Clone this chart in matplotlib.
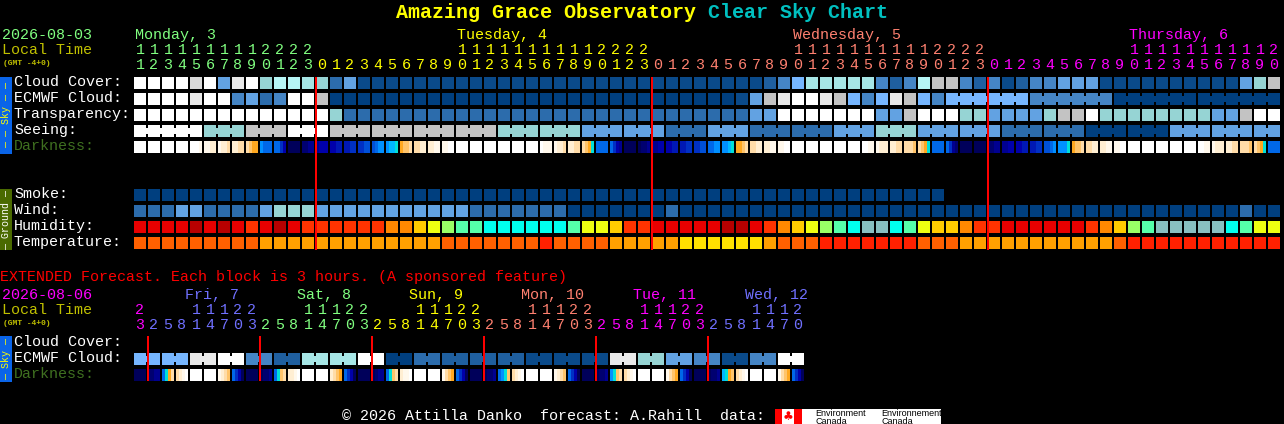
import matplotlib
matplotlib.use("Agg")
import matplotlib.pyplot as plt

DPI = 100
PX = 72.0 / DPI  # points per pixel
MONO = "Liberation Mono"

CELL_X0 = 134
CELL_PITCH = 14
CELL_W = 12

# sky condition colours
PALETTE = {
    "n": "#003f7f", "m": "#0a4a8a", "b": "#1f5f9f", "c": "#2c6cac", "d": "#4585c5",
    "e": "#62a2e2", "f": "#76b6ff", "g": "#96d4d4", "h": "#a6e6e6", "i": "#b6f6f6",
    "j": "#c3c3c3", "k": "#d9d9d9", "l": "#e9e9e9", "w": "#ffffff",
}
# humidity and temperature colours
HEAT = {
    "D": "#b80000", "R": "#e80000", "S": "#ff3300", "O": "#ff8800", "Y": "#ffcc00",
    "L": "#eeff11", "G": "#99ff66", "M": "#55ffaa", "C": "#00ffee", "T": "#88c0c0",
    "1": "#ff2000", "2": "#ff6000", "3": "#ffa000", "4": "#ffe000",
}
# darkness stripes, night to day
DARK = {
    "0": "#00005a", "1": "#000070", "2": "#000090", "3": "#0000aa", "4": "#0018b4",
    "5": "#0030c4", "6": "#0050d8", "7": "#0068e8", "8": "#0090ff", "9": "#00b8ff",
    "c": "#00e0d8", "o": "#ffa820", "p": "#ffc46a", "q": "#ffdca8", "r": "#ffeed2",
    "s": "#fff8ec", "w": "#ffffff",
}

main_hours = [
    11, 12, 13, 14, 15, 16, 17, 18, 19, 20, 21, 22, 23,
    0, 1, 2, 3, 4, 5, 6, 7, 8, 9, 10, 11, 12, 13, 14, 15, 16, 17, 18, 19, 20, 21, 22, 23,
    0, 1, 2, 3, 4, 5, 6, 7, 8, 9, 10, 11, 12, 13, 14, 15, 16, 17, 18, 19, 20, 21, 22, 23,
    0, 1, 2, 3, 4, 5, 6, 7, 8, 9, 10, 11, 12, 13, 14, 15, 16, 17, 18, 19, 20,
]
main_day_first = [0, 13, 37, 61]
main_day_colors = ["#80ff80", "#ffff00", "#ff8070", "#ff00ff"]
main_day_names = ["Monday, 3", "Tuesday, 4", "Wednesday, 5", "Thursday, 6"]
main_day_label_x = [135, 457, 793, 1129]
main_midnights = [315, 651, 987]

cloud_cover = ("wwwwkwelwg" "iihgcemmmm" "mmmmmmmmmm" "mmmmmmmmmm"
               "mmmmmbdfhh" "hhhdbdijjd" "bdmbddeeem" "mmmmmmmmmegj")
ecmwf_cloud = ("wwwwlwwdec" "dwwjnnnnnn" "nnnnnnnnnn" "nnnnnnnnnn"
               "nnnmejlwwl" "jfdfljfdff" "ffffdddddd" "nnnnnnnnnnnn")
transparency = ("wwwwwwwwww" "wwwwgccccc" "cccccccccc" "cccccccccc"
                "cccceewwww" "wwweejwwwg" "geeeegjjwg" "gggggggeejww")
seeing = ("wwwwwgggjj" "jwwwjjjjjj" "jjjjjjgggg" "ggeeeeeecc"
          "ceeecccccc" "eeegggeeee" "eeccccccnn" "nnnneeeeeeee")
smoke = ("nnnnnnnnnn" "nnnnnnnnnn" "nnnnnnnnnn" "nnnnnnnnnn"
         "nnnnnnnnnn" "nnnnnnnn")
wind = ("ccceecccce" "gggeeeeeee" "eeeecccccc" "cnnnnnnncn"
        "nnnnnnnnnn" "nnnnnnnnnn" "nnnnnnnnnn" "nnnnnnnnncnn")
humidity = ("RRRRDRDRSR" "DRSSSSSSOO" "YLGMMCCCCC" "CMLLYSSRRR"
            "RRDDRSOYLG" "MCTTCMLYYO" "SSRRRRRRSO" "YGMTTTTTCMLL")
temperature = ("2222222223" "3333333333" "3322222221" "2222333334"
               "4444432221" "1111112223" "3333333333" "211111111111")
darkness = [
    "wwww", "wwww", "wwww", "wwww", "wwws", "ssrr", "srrq", "rrqq", "qpoo", "8777",
    "7753", "0000", "1122", "2333", "3344", "4455", "5566", "6788", "899c", "oppq",
    "qqrr", "rrss", "ssww", "wwww", "wwww", "wwww", "wwww", "wwww", "wwww", "wsss",
    "srrq", "rrqq", "qpoc", "7777", "7532", "0000", "0112", "2233", "3344", "4455",
    "5566", "7788", "889c", "oopq", "qqrr", "rrss", "ssww", "wwww", "wwww", "wwww",
    "wwww", "wwww", "wwss", "srrr", "rrqq", "qqqp", "qpoc", "7777", "7521", "0000",
    "0000", "1122", "2233", "3344", "4455", "6678", "888c", "oppq", "qqrr", "rrss",
    "ssww", "wwww", "wwww", "wwww", "wwww", "wwww", "wwss", "srrr", "rrqq", "qqqp",
    "qpoc", "7777",
]
# runs of hours that share one forecast step
ecmwf_runs = [(58, 75), (76, 81)]
seeing_firsts = [0, 2, 5, 8, 11, 14, 17, 20, 23, 26, 29, 32, 35, 38, 41, 44, 47, 50, 53,
                 56, 59, 62, 65, 68, 71, 74, 77, 80]

ext_hours = [
    23, 2, 5, 8, 11, 14, 17, 20, 23, 2, 5, 8, 11, 14, 17, 20, 23, 2, 5, 8, 11, 14, 17, 20,
    23, 2, 5, 8, 11, 14, 17, 20, 23, 2, 5, 8, 11, 14, 17, 20, 23, 2, 5, 8, 11, 14, 17, 20,
]
ext_day_first = [0, 1, 9, 17, 25, 33, 41]
ext_day_colors = ["#ff00ff", "#7070ff", "#80ff80", "#ffff00", "#ff8070", "#ff00ff", "#7070ff"]
ext_day_names = ["Fri, 7", "Sat, 8", "Sun, 9", "Mon, 10", "Tue, 11", "Wed, 12"]
ext_day_label_x = [185, 297, 409, 521, 633, 745]
ext_midnights = [147, 259, 371, 483, 595, 707]
ext_ecmwf = "fflwdbhhwncbbbmmmlgedmdw"
ext_darkness = [
    "0000", "1122", "7coq", "qrsw", "wwww", "wwww", "srqp", "7530",
    "0000", "0112", "7cpq", "rrsw", "wwww", "wwww", "rqpo", "7530",
    "0000", "0122", "7cpq", "rssw", "wwww", "wwww", "sqpo", "7530",
    "0000", "0112", "78cp", "qrsw", "wwww", "wwww", "srqp", "7530",
    "0000", "0112", "8cpq", "qrsw", "wwww", "wwww", "sqpo", "7530",
    "0000", "0112", "9cop", "qrsw", "wwww", "wwww", "sqpo", "7530",
]

sky_labels = ["Cloud Cover:", "ECMWF Cloud:", "Transparency:", "Seeing:", "Darkness:"]
ground_labels = ["Smoke:", "Wind:", "Humidity:", "Temperature:"]


def draw_row(ax, codes, colors, top):
    xs = [CELL_X0 + CELL_PITCH * i for i in range(len(codes))]
    ax.bar(xs, [12] * len(xs), width=CELL_W, bottom=top, align="edge",
           color=[colors[c] for c in codes], linewidth=0, antialiased=False, zorder=2)


def draw_joins(ax, codes, colors, top, runs):
    # little bridges between blocks of the same colour in one run
    for first, last in runs:
        for col in range(first, last):
            if codes[col] != codes[col + 1]:
                continue
            x = CELL_X0 + CELL_PITCH * col + CELL_W
            ax.bar(x, 6, width=2, bottom=top + 3, align="edge",
                   color=colors[codes[col]], linewidth=0, antialiased=False, zorder=2)


def draw_darkness(ax, stripes, top):
    for col, block in enumerate(stripes):
        x0 = CELL_X0 + CELL_PITCH * col
        ax.bar([x0 + 3 * i for i in range(4)], [12] * 4, width=3, bottom=top, align="edge",
               color=[DARK[c] for c in block], linewidth=0, antialiased=False, zorder=2)


def draw_midnights(ax, xs, top, height):
    ax.bar(xs, [height] * len(xs), width=2, bottom=top, align="edge", color="#ff0000",
           linewidth=0, antialiased=False, snap=False, zorder=3)


def label(ax, x, y, text, color, size=15, **kw):
    return ax.text(x, y, text, color=color, fontsize=size * PX, family=MONO,
                   va="baseline", ha="left", **kw)


def side_bar(ax, top, height, color, text, text_color):
    ax.bar(0, height, width=12, bottom=top, align="edge", color=color, linewidth=0,
           antialiased=False)
    ax.text(6, top + height / 2.0, text, color=text_color, fontsize=10 * PX, family=MONO,
            rotation=90, ha="center", va="center")


def draw_hours(ax, hours, firsts, colors, y_tens, y_units):
    for col, hour in enumerate(hours):
        color = colors[[i for i, f in enumerate(firsts) if f <= col][-1]]
        x = CELL_X0 + CELL_PITCH * col + 6
        if hour >= 10:
            ax.text(x, y_tens, str(hour // 10), color=color, fontsize=15 * PX, family=MONO,
                    ha="center", va="baseline")
        ax.text(x, y_units, str(hour % 10), color=color, fontsize=15 * PX, family=MONO,
                ha="center", va="baseline")


fig = plt.figure(figsize=(1284 / DPI, 424 / DPI), dpi=DPI, facecolor="black")
ax = fig.add_axes([0, 0, 1, 1])
ax.set_xlim(0, 1284)
ax.set_ylim(424, 0)
ax.axis("off")

# title
label(ax, 396, 18, "Amazing Grace Observatory", "#ffff00", size=20, fontweight="bold")
label(ax, 708, 18, "Clear Sky Chart", "#00c0c0", size=20, fontweight="bold")

# main chart header
label(ax, 2, 39, "2026-08-03", "#80ff80")
label(ax, 2, 54, "Local Time", "#c0c000")
label(ax, 3, 65, "(GMT -4+0)", "#c0c000", size=8, fontweight="bold")
for name, x, color in zip(main_day_names, main_day_label_x, main_day_colors):
    label(ax, x, 39, name, color)
draw_hours(ax, main_hours, main_day_first, main_day_colors, 54, 69)

# side bars
side_bar(ax, 77, 77, "#0a64e8", "\u2014 \u2014 Sky \u2014 \u2014", "#ffff00")
side_bar(ax, 189, 61, "#4a6a00", "\u2014 Ground \u2014", "#ffffff")
side_bar(ax, 336, 46, "#0a64e8", "\u2014 Sky \u2014", "#ffff00")

# sky rows
for i, text in enumerate(sky_labels):
    label(ax, 14, 86 + 16 * i, text, "#3f7020" if text == "Darkness:" else "#ffffff")
draw_row(ax, cloud_cover, PALETTE, 77)
draw_row(ax, ecmwf_cloud, PALETTE, 93)
draw_joins(ax, ecmwf_cloud, PALETTE, 93, ecmwf_runs)
draw_row(ax, transparency, PALETTE, 109)
draw_row(ax, seeing, PALETTE, 125)
seeing_runs = [(f, min(f + 2, len(seeing) - 1)) for f in seeing_firsts]
draw_joins(ax, seeing, PALETTE, 125, seeing_runs)
draw_darkness(ax, darkness, 141)

# ground rows
for i, text in enumerate(ground_labels):
    label(ax, 14, 198 + 16 * i, text, "#ffffff")
draw_row(ax, smoke, PALETTE, 189)
draw_row(ax, wind, PALETTE, 205)
draw_row(ax, humidity, HEAT, 221)
draw_row(ax, temperature, HEAT, 237)

draw_midnights(ax, main_midnights, 77, 173)

# extended forecast
label(ax, 0, 281, "EXTENDED Forecast. Each block is 3 hours. (A sponsored feature)", "#ff0000")
label(ax, 2, 299, "2026-08-06", "#ff00ff")
label(ax, 2, 314, "Local Time", "#c0c000")
label(ax, 3, 325, "(GMT -4+0)", "#c0c000", size=8, fontweight="bold")
for name, x, color in zip(ext_day_names, ext_day_label_x, ext_day_colors[1:]):
    label(ax, x, 299, name, color)
draw_hours(ax, ext_hours, ext_day_first, ext_day_colors, 314, 329)

label(ax, 14, 346, sky_labels[0], "#ffffff")
label(ax, 14, 362, sky_labels[1], "#ffffff")
label(ax, 14, 378, "Darkness:", "#3f7020")
ext_cells = "".join(c + c for c in ext_ecmwf)
draw_row(ax, ext_cells, PALETTE, 353)
draw_joins(ax, ext_cells, PALETTE, 353, [(2 * k, 2 * k + 1) for k in range(len(ext_ecmwf))])
draw_darkness(ax, ext_darkness, 369)
draw_midnights(ax, ext_midnights, 336, 45)

# footer
label(ax, 342, 420, "\u00a9 2026 Attilla Danko  forecast: A.Rahill  data:", "#ffffff")
ax.bar(775, 15, width=166, bottom=409, align="edge", color="#ffffff", linewidth=0, antialiased=False)
ax.bar([775, 794], [15, 15], width=[7, 8], bottom=409, align="edge", color="#ff0000", linewidth=0,
       antialiased=False, zorder=2)
ax.text(788, 416.5, "\u2663", color="#ff0000", fontsize=12 * PX, family="DejaVu Sans",
        ha="center", va="center", zorder=3)
for x, word in zip([815, 881], ["Environment", "Environnement"]):
    ax.text(x, 416, word, color="#000000", fontsize=9 * PX, family="Liberation Sans",
            va="baseline", zorder=3)
    ax.text(x, 423.5, "Canada", color="#000000", fontsize=9 * PX, family="Liberation Sans",
            va="baseline", zorder=3)

fig.savefig("out.png", dpi=DPI, facecolor="black")
